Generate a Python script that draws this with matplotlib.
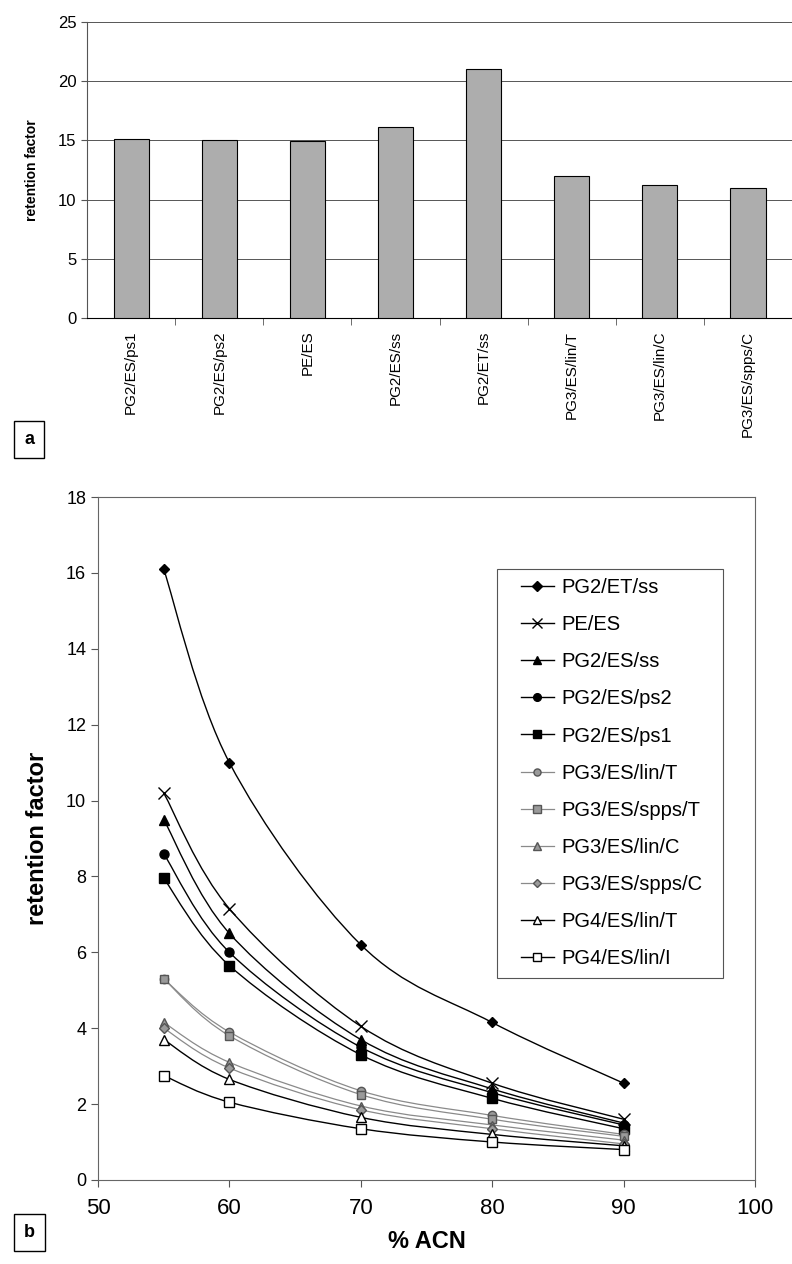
import numpy as np
import matplotlib
matplotlib.use("Agg")
import matplotlib.pyplot as plt
from matplotlib.path import Path
from matplotlib.patches import PathPatch, Rectangle
from matplotlib.lines import Line2D

# ---------------------------------------------------------------------------
# Data
# ---------------------------------------------------------------------------
bar_labels = ["PG2/ES/ps1", "PG2/ES/ps2", "PE/ES", "PG2/ES/ss", "PG2/ET/ss",
              "PG3/ES/lin/T", "PG3/ES/lin/C", "PG3/ES/spps/C"]
bar_values = [15.1, 15.05, 14.95, 16.1, 21.0, 12.0, 11.2, 10.95]

acn = [55, 60, 70, 80, 90]
series_names = ["PG2/ET/ss", "PE/ES", "PG2/ES/ss", "PG2/ES/ps2", "PG2/ES/ps1",
                "PG3/ES/lin/T", "PG3/ES/spps/T", "PG3/ES/lin/C", "PG3/ES/spps/C",
                "PG4/ES/lin/T", "PG4/ES/lin/I"]
pg2_et_ss     = [16.1, 11.0, 6.2, 4.15, 2.55]
pe_es         = [10.2, 7.15, 4.05, 2.55, 1.6]
pg2_es_ss     = [9.5, 6.5, 3.7, 2.4, 1.5]
pg2_es_ps2    = [8.6, 6.0, 3.5, 2.3, 1.45]
pg2_es_ps1    = [7.95, 5.65, 3.3, 2.15, 1.35]
pg3_lin_t     = [5.3, 3.9, 2.35, 1.7, 1.2]
pg3_spps_t    = [5.3, 3.8, 2.25, 1.6, 1.15]
pg3_lin_c     = [4.15, 3.1, 1.95, 1.45, 1.05]
pg3_spps_c    = [4.0, 2.95, 1.85, 1.35, 0.95]
pg4_lin_t     = [3.7, 2.65, 1.65, 1.2, 0.9]
pg4_lin_i     = [2.75, 2.05, 1.35, 1.0, 0.8]
series_values = [pg2_et_ss, pe_es, pg2_es_ss, pg2_es_ps2, pg2_es_ps1,
                 pg3_lin_t, pg3_spps_t, pg3_lin_c, pg3_spps_c, pg4_lin_t, pg4_lin_i]

# style per series: (line colour, line width, marker, face, edge, size)
GRAY = "#8a8a8a"
styles = [
    ("black", 1.0, "D", "black", "black", 5.5),
    ("black", 1.0, "x", "black", "black", 8),
    ("black", 1.0, "^", "black", "black", 6.5),
    ("black", 1.0, "o", "black", "black", 6.5),
    ("black", 1.0, "s", "black", "black", 6.5),
    (GRAY, 0.9, "o", "#9a9a9a", "#555555", 6),
    (GRAY, 0.9, "s", "#9a9a9a", "#555555", 6),
    (GRAY, 0.9, "^", "#9a9a9a", "#555555", 6),
    (GRAY, 0.9, "D", "#9a9a9a", "#555555", 5),
    ("black", 1.0, "^", "white", "black", 6.5),
    ("black", 1.0, "s", "white", "black", 6.5),
]

NARROW = ["Liberation Sans Narrow", "Liberation Sans", "DejaVu Sans"]
ARIAL = ["Liberation Sans", "DejaVu Sans"]
plt.rcParams["font.family"] = ARIAL


def smooth_path(x, y):
    """Excel-like smoothed line: Catmull-Rom segments as cubic Beziers."""
    pts = np.column_stack([x, y]).astype(float)
    n = len(pts)
    verts = [pts[0]]
    codes = [Path.MOVETO]
    for i in range(n - 1):
        p0 = pts[i - 1] if i > 0 else pts[i]
        p1, p2 = pts[i], pts[i + 1]
        p3 = pts[i + 2] if i + 2 < n else pts[i + 1]
        verts += [p1 + (p2 - p0) / 6.0, p2 - (p3 - p1) / 6.0, p2]
        codes += [Path.CURVE4] * 3
    return Path(verts, codes)


fig = plt.figure(figsize=(7.92, 12.64), dpi=100)

# ---------------------------------------------------------------------------
# (a) bar chart
# ---------------------------------------------------------------------------
ax1 = fig.add_axes([0.110, 0.7484, 0.890, 0.2342])
xpos = np.arange(len(bar_labels))
ax1.bar(xpos, bar_values, width=0.4, color="#adadad", edgecolor="black",
        linewidth=0.8, zorder=3)
ax1.set_xlim(-0.5, len(bar_labels) - 0.5)
ax1.set_ylim(0, 25)
ax1.set_yticks([0, 5, 10, 15, 20, 25])
ax1.yaxis.grid(True, color="#555555", linewidth=0.7, zorder=0)
ax1.set_xticks(xpos)
ax1.set_xticklabels(bar_labels, rotation=90, fontsize=11, va="top")
ax1.set_xticks(xpos[:-1] + 0.5, minor=True)
ax1.tick_params(axis="x", which="major", length=0, pad=9)
ax1.tick_params(axis="x", which="minor", length=5, color="#555555")
ax1.tick_params(axis="y", length=4, color="#555555")
for lab in ax1.get_yticklabels():
    lab.set_fontsize(12)
    lab.set_family(NARROW)
ax1.spines["right"].set_visible(False)
ax1.spines["top"].set_visible(False)
ax1.spines["left"].set_color("#555555")
ax1.spines["bottom"].set_color("black")
ax1.set_ylabel("retention factor", fontsize=10, fontweight="bold", labelpad=14)

# ---------------------------------------------------------------------------
# (b) retention factor vs %ACN
# ---------------------------------------------------------------------------
ax2 = fig.add_axes([0.1237, 0.0665, 0.8296, 0.5403])
handles = []
for name, vals, (lc, lw, mk, fc, ec, ms) in zip(series_names, series_values, styles):
    ax2.add_patch(PathPatch(smooth_path(acn, vals), facecolor="none",
                            edgecolor=lc, linewidth=lw, zorder=2))
    ax2.plot(acn, vals, linestyle="none", marker=mk, markersize=ms,
             markerfacecolor=fc, markeredgecolor=ec, markeredgewidth=1.0,
             color=ec, zorder=3)
    handles.append(Line2D([], [], color=lc, linewidth=lw, marker=mk,
                          markersize=ms * 0.85, markerfacecolor=fc,
                          markeredgecolor=ec, label=name))

ax2.set_xlim(50, 100)
ax2.set_ylim(0, 18)
ax2.set_xticks([50, 60, 70, 80, 90, 100])
ax2.set_yticks(np.arange(0, 19, 2))
ax2.tick_params(axis="both", length=5, color="#555555")
ax2.tick_params(axis="y", labelsize=13)
ax2.tick_params(axis="x", labelsize=16, pad=8)
for lab in ax2.get_xticklabels():
    lab.set_family(NARROW)
for sp in ax2.spines.values():
    sp.set_color("#666666")
ax2.set_ylabel("retention factor", fontsize=17, fontweight="bold",
               family=NARROW, labelpad=12)
ax2.set_xlabel("% ACN", fontsize=17, fontweight="bold", family=NARROW,
               labelpad=8)

# legend entries without own frame; box drawn separately (wider side margins)
leg = ax2.legend(handles=handles, loc="upper left",
                 bbox_to_anchor=(0.6438, 0.8814), fontsize=14.5, frameon=False,
                 handlelength=1.64, handletextpad=0.35, labelspacing=0.9,
                 borderpad=0, borderaxespad=0)
ax2.add_patch(Rectangle((0.607, 0.2958), 0.344, 0.5988, transform=ax2.transAxes,
                        facecolor="white", edgecolor="#555555", linewidth=0.8,
                        zorder=4))
leg.set_zorder(5)

# panel letters
for label, (cx, cy) in [("a", (0.037, 0.652)), ("b", (0.037, 0.025))]:
    fig.text(cx, cy, label, fontsize=13, fontweight="bold", family=NARROW,
             ha="center", va="center",
             bbox=dict(boxstyle="square,pad=0.55", facecolor="white",
                       edgecolor="black", linewidth=1.0))

fig.savefig("out.png", dpi=100)
